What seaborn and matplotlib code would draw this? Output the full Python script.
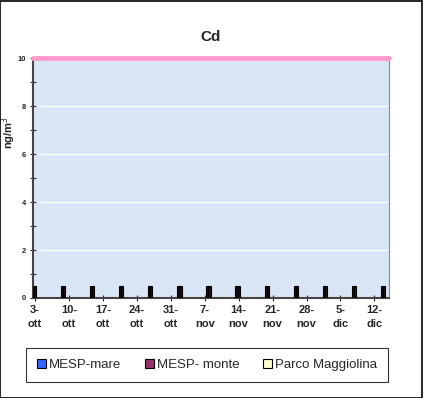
import pandas as pd
import matplotlib
matplotlib.use('Agg')
import matplotlib.pyplot as plt
import seaborn as sns
from matplotlib.patches import Patch, Rectangle

# giorni di campionamento (giorni dal 3-ott), ogni 6 giorni
giorni = [0, 6, 12, 18, 24, 30, 36, 42, 48, 54, 60, 66, 72]
mesp_mare = [0.5, 0.5, 0.5, 0.5, 0.5, 0.5, 0.5, 0.5, 0.5, 0.5, 0.5, 0.5, 0.5]
mesp_monte = [0.5, 0.5, 0.5, 0.5, 0.5, 0.5, 0.5, 0.5, 0.5, 0.5, 0.5, 0.5, 0.5]
maggiolina = [0, 0, 0, 0, 0, 0, 0, 0, 0, 0, 0, 0, 0]

serie = ['MESP-mare', 'MESP- monte', 'Parco Maggiolina']
colori = ['#3366FF', '#993366', '#FFFFCC']

tick_giorni = [0, 7, 14, 21, 28, 35, 42, 49, 56, 63, 70]
tick_label = ['3-\nott', '10-\nott', '17-\nott', '24-\nott', '31-\nott', '7-\nnov',
              '14-\nnov', '21-\nnov', '28-\nnov', '5-\ndic', '12-\ndic']
limite = 10

df = pd.DataFrame({
    'giorno': giorni * 3,
    'valore': mesp_mare + mesp_monte + maggiolina,
    'stazione': [serie[0]] * 13 + [serie[1]] * 13 + [serie[2]] * 13,
})

sns.set_style('ticks')
plt.rcParams['font.family'] = ['Liberation Sans', 'DejaVu Sans']

fig = plt.figure(figsize=(4.32, 3.98), dpi=100)
ax = fig.add_axes([33 / 432, 1 - 298 / 398, 356 / 432, 240 / 398])
ax.set_facecolor('#D9E6F6')

# barre molto sottili: a questa scala appaiono nere
sns.barplot(data=df, x='giorno', y='valore', hue='stazione',
            palette=['#111111', '#2a0a14', '#111111'],
            native_scale=True, width=0.22, edgecolor='black', linewidth=0.8,
            ax=ax, legend=False, zorder=3)

ax.axhline(limite, color='#FF99CC', lw=3.5, zorder=4, clip_on=False)

ax.set_xlim(-0.4, 73)
ax.set_ylim(0, 10)
ax.set_yticks([0, 2, 4, 6, 8, 10])
ax.set_yticks([1, 3, 5, 7, 9], minor=True)
ax.set_xticks(tick_giorni)
ax.set_xticklabels(tick_label, fontsize=8, fontweight='bold', linespacing=1.45)
for t in ax.get_yticklabels():
    t.set_fontsize(5.5)
    t.set_fontweight('bold')
ax.grid(axis='y', color='white', lw=0.8, zorder=0)
ax.set_axisbelow(True)
ax.tick_params(axis='y', which='both', direction='inout', length=4, width=0.8, pad=3)
ax.tick_params(axis='x', direction='inout', length=4, width=0.8, pad=3)

ax.spines['left'].set_color('#444444')
ax.spines['left'].set_linewidth(1.5)
ax.spines['bottom'].set_color('#444444')
ax.spines['bottom'].set_linewidth(1.5)
ax.spines['right'].set_color('#888888')
ax.spines['right'].set_linewidth(0.8)
ax.spines['top'].set_visible(False)

ax.set_xlabel('')
ax.set_ylabel('ng/m$^3$', fontsize=8, fontweight='bold')
ax.yaxis.set_label_coords(-0.042, 0.69)
ax.set_title('Cd', fontsize=11, fontweight='bold', pad=12)

handles = [Patch(facecolor=c, edgecolor='black', lw=0.8) for c in colori]
leg = fig.legend(handles, serie, loc='center', ncol=3,
                 bbox_to_anchor=(207 / 432, 1 - 365 / 398), fontsize=9.5,
                 frameon=True, fancybox=False, edgecolor='black',
                 handlelength=0.7, handleheight=0.7, handletextpad=0.2,
                 columnspacing=1.8, borderpad=0.8, borderaxespad=0)
leg.get_frame().set_linewidth(0.8)

fig.patches.append(Rectangle((0.0, 0.0), 422 / 432, 0.997, transform=fig.transFigure,
                             fill=False, edgecolor='black', lw=1.2))

fig.savefig('out.png', dpi=100)
